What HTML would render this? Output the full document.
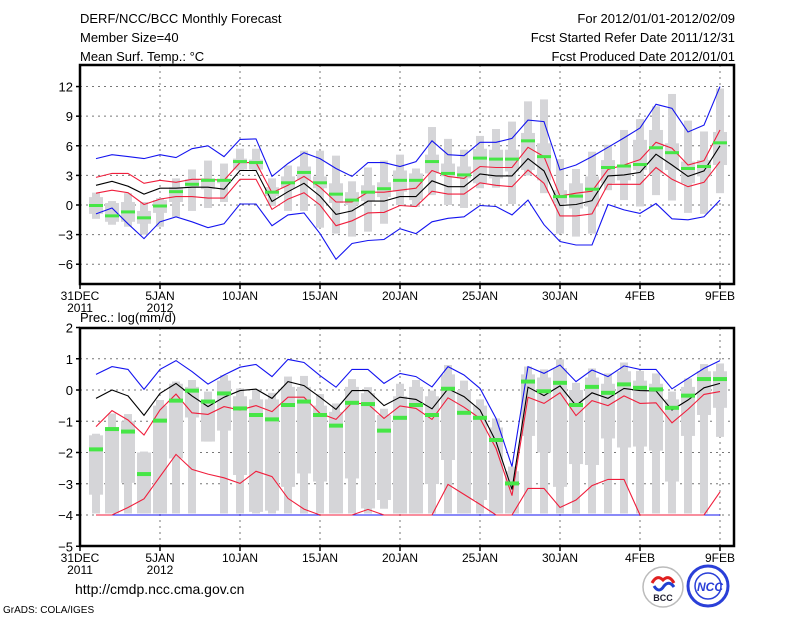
<!DOCTYPE html>
<html><head><meta charset="utf-8"><style>
body{margin:0;background:#fff;}
svg{display:block;font-family:"Liberation Sans","DejaVu Sans",sans-serif;}
</style></head><body>
<svg id="chart" width="800" height="618" viewBox="0 0 800 618">
<rect width="800" height="618" fill="#fff"/>
<g font-size="13" fill="#000">
<text x="80" y="23">DERF/NCC/BCC Monthly Forecast</text>
<text x="80" y="42">Member Size=40</text>
<text x="80" y="61">Mean Surf. Temp.: °C</text>
<text x="735" y="23" text-anchor="end">For 2012/01/01-2012/02/09</text>
<text x="735" y="42" text-anchor="end">Fcst Started Refer Date 2011/12/31</text>
<text x="735" y="61" text-anchor="end">Fcst Produced Date 2012/01/01</text>
<text x="80" y="322">Prec.: log(mm/d)</text>
</g>
<g id="top"></g>
<g id="bot"></g>
<text x="75" y="594" font-size="14">http://cmdp.ncc.cma.gov.cn</text>
<text x="3" y="613" font-size="10">GrADS: COLA/IGES</text>
<g>
<circle cx="663" cy="587" r="20" fill="#fff" stroke="#bbb" stroke-width="1.5"/>
<path d="M652 583 q5 -9 11 -3 q6 -6 11 3" fill="none" stroke="#e02020" stroke-width="3"/>
<path d="M654 586 q5 8 10 0 q5 -6 10 1" fill="none" stroke="#2040d0" stroke-width="3"/>
<text x="663" y="601" font-size="9" font-weight="bold" text-anchor="middle" fill="#223">BCC</text>
</g>
<g>
<circle cx="708" cy="586" r="20" fill="#fff" stroke="#2a3fd8" stroke-width="3"/>
<circle cx="708" cy="586" r="13" fill="none" stroke="#2a3fd8" stroke-width="1.5"/>
<text x="710" y="591" font-size="12" font-weight="bold" font-style="italic" text-anchor="middle" fill="#2a3fd8">NCC</text>
</g>
</svg>
<script>
// Temperature data (days 1..40)
const days = Array.from({length:40},(_,i)=>i+1);
const tBlueHi=[4.7,5.1,4.9,4.7,5.1,4.8,5.7,6.0,4.9,6.65,6.7,2.9,4.2,5.3,4.7,3.7,2.9,4.3,4.3,3.9,4.4,6.5,5.1,5.0,6.35,6.35,6.75,8.6,8.45,3.55,4.05,4.9,5.85,6.8,7.8,10.2,9.8,7.4,8.1,12.0];
const tBlueLo=[-0.9,-0.3,-1.9,-3.4,-1.7,-1.2,-1.7,-2.3,-1.9,0.1,0.1,-2.1,-1.0,-0.8,-2.9,-5.5,-3.9,-3.6,-3.5,-2.4,-2.9,-1.7,-1.35,-1.2,-0.05,-0.15,-1.0,0.5,-2.0,-3.7,-4.05,-4.05,0.05,-0.5,-0.85,0.15,-1.4,-1.5,-1.2,0.5];
const tRedHi=[2.8,3.2,3.2,2.2,2.5,2.3,2.6,2.6,2.5,4.3,4.3,1.25,2.0,2.9,1.8,0.3,0.3,1.3,1.3,1.5,1.7,3.5,2.9,2.7,3.9,3.8,3.8,5.85,4.9,0.9,1.2,1.4,3.6,4.05,4.6,6.35,5.75,4.05,4.5,7.6];
const tMean=[2.0,2.4,1.9,1.1,1.7,1.7,1.8,1.8,1.6,3.5,3.5,0.35,1.35,2.2,0.9,-0.95,-0.6,0.4,0.4,0.85,0.85,2.45,1.85,1.85,3.15,2.95,2.95,4.7,3.45,-0.05,0.05,0.45,2.95,3.05,3.3,5.15,4.05,2.9,3.45,6.0];
const tRedLo=[1.2,1.5,1.25,0.05,0.6,0.85,0.85,0.7,0.7,2.6,2.6,-0.45,0.6,1.25,0,-2.1,-1.6,-0.8,-0.75,-0.05,-0.15,1.4,1.1,1.1,2.25,2.0,1.85,3.55,2.2,-1.1,-1.1,-0.9,2.1,2.1,2.1,3.8,2.6,1.85,2.3,4.4];
const tObs=[-0.05,-1.1,-0.7,-1.3,-0.1,1.35,2.1,2.5,2.5,4.4,4.3,1.3,2.25,3.3,2.25,1.1,0.5,1.3,1.65,2.5,2.5,4.4,3.2,3.05,4.75,4.65,4.65,6.5,4.9,0.85,0.9,1.6,3.8,3.95,4.1,5.8,5.3,3.7,3.9,6.3];
const tMax=[1.25,0.4,1.2,0.3,0.7,2.7,3.6,4.5,4.2,5.7,5.7,2.7,4.0,5.5,5.5,5.0,2.4,3.8,4.5,5.1,3.7,7.9,6.7,5.6,7.0,7.7,8.45,10.5,10.7,4.65,3.65,5.4,6.1,7.6,8.7,10.0,11.25,8.55,7.45,11.8];
const tQ3=[0.8,0.2,0.3,-0.6,0.5,1.8,2.6,2.7,2.6,4.7,4.6,1.8,2.9,3.9,2.9,2.2,1.3,2.0,2.3,3.5,3.2,5.1,4.2,3.9,5.7,5.6,5.6,7.3,6.25,1.5,2.2,2.9,4.55,3.9,6.6,7.6,6.25,4.4,4.55,7.4];
const tQ1=[-0.9,-1.7,-1.7,-1.9,-0.8,0.3,1.8,1.6,2.2,3.6,3.6,0.9,1.7,2.5,1.7,0.2,0,0.4,0.8,1.35,0.5,3.2,2.9,2.7,2.2,2.7,3.4,3.55,2.5,0.15,-0.35,-0.15,2.2,2.5,3.55,3.2,3.55,2.2,2.9,4.05];
const tMin=[-1.4,-2.0,-2.2,-3.0,-2.2,-1.2,-0.6,-0.3,0.3,3.5,3.5,-0.1,-0.6,-0.6,-2.3,-2.9,-3.2,-2.7,-1.9,0,-0.2,1.0,0,-0.3,1.7,1.75,0.1,3.0,1.2,-2.9,-3.2,-2.9,1.5,0.5,-0.15,1.0,0.45,-0.8,-0.9,1.2];
const tTicks=[-6,-3,0,3,6,9,12];
// Precipitation data
const pBlueHi=[0.5,0.75,0.66,0.02,0.66,0.94,0.59,0.19,0.48,0.73,0.82,0.43,0.98,0.88,0.46,0.09,0.66,0.66,0.21,0.53,0.43,0.1,0.75,0.48,0.05,-0.91,-2.45,0.75,0.53,0.8,0.27,0.64,0.43,0.77,0.66,0.66,0.04,0.37,0.69,0.94];
const pBlueLo=[-4,-4,-4,-4,-4,-4,-4,-4,-4,-4,-4,-4,-4,-4,-4,-4,-4,-4,-4,-4,-4,-4,-4,-4,-4,-4,-4,-4,-4,-4,-4,-4,-4,-4,-4,-4,-4,-4,-4,-4];
const pRedHi=[-1.17,-0.66,-0.96,-1.44,-0.64,-0.13,-0.73,-0.78,-0.53,-0.64,-0.5,-0.69,-0.23,-0.23,-0.75,-0.94,-0.41,-0.45,-0.91,-0.51,-0.59,-0.94,-0.25,-0.55,-0.91,-1.87,-3.38,-0.23,-0.43,-0.09,-0.82,-0.34,-0.5,-0.19,-0.43,-0.41,-1.05,-0.62,-0.14,-0.05];
const pMean=[-0.27,0,-0.19,-0.81,-0.11,0.21,-0.19,-0.53,-0.23,-0.02,0.03,-0.27,0.27,0.14,-0.23,-0.62,-0.02,-0.02,-0.5,-0.23,-0.3,-0.6,0.04,-0.21,-0.64,-1.65,-3.18,0.09,-0.18,0.13,-0.5,-0.09,-0.27,0.05,-0.02,-0.03,-0.64,-0.32,0.07,0.21];
const pRedLo=[-4,-4,-3.76,-3.48,-2.77,-2.06,-2.54,-2.69,-2.81,-2.99,-2.6,-2.77,-3.47,-3.81,-4,-4,-4,-3.82,-4,-4,-4,-4,-3.02,-3.34,-3.66,-4,-4,-3.15,-3.15,-3.76,-3.52,-3.06,-2.86,-2.86,-4,-4,-4,-4,-4,-3.26];
const pObs=[-1.9,-1.25,-1.33,-2.69,-0.98,-0.34,-0.02,-0.37,-0.11,-0.59,-0.8,-0.94,-0.48,-0.37,-0.8,-1.14,-0.41,-0.45,-1.3,-0.89,-0.48,-0.8,0.04,-0.73,-0.89,-1.6,-2.99,0.27,-0.04,0.23,-0.48,0.1,-0.09,0.18,0.07,0.02,-0.57,-0.18,0.35,0.35];
const pMax=[-1.4,-0.75,-0.77,-1.97,-0.32,0.27,0.32,-0.05,0.48,0.05,0.02,-0.09,0.43,0.45,-0.13,-0.43,0.35,0.09,-0.6,0.2,0.32,-0.02,0.8,0.3,-0.3,-0.91,-2.45,0.75,0.66,0.98,0.23,0.69,0.53,0.88,0.61,0.53,-0.05,0.37,0.83,0.85];
const pQ3=[-1.45,-1.2,-1.0,-2.0,-0.5,0.2,0.1,-0.3,0.3,-0.2,-0.3,-0.3,0.1,0.1,-0.5,-0.7,0.1,-0.1,-0.8,-0.2,0.1,-0.2,0.5,0.0,-0.5,-1.2,-2.6,0.5,0.4,0.7,0.0,0.4,0.2,0.6,0.3,0.2,-0.3,0.1,0.6,0.6];
const pQ1=[-3.35,-3.95,-2.97,-3.95,-3.95,-2.19,-0.88,-1.65,-1.3,-2.72,-3.9,-3.86,-3.1,-2.67,-2.93,-3.95,-2.83,-3.79,-3.52,-3.95,-3.95,-3.01,-2.24,-3.95,-3.52,-3.95,-3.95,-1.47,-2.0,-3.1,-2.37,-2.4,-1.55,-1.84,-1.81,-1.94,-2.93,-1.47,-0.8,-0.57];
const pMin=[-3.95,-3.95,-3.95,-3.95,-3.95,-3.95,-3.95,-1.65,-3.95,-3.95,-3.95,-3.95,-3.95,-3.95,-3.95,-3.95,-3.95,-3.95,-3.8,-3.95,-3.95,-3.95,-3.95,-3.95,-3.95,-3.95,-3.95,-3.95,-3.95,-3.95,-3.95,-3.95,-3.95,-3.95,-3.95,-3.95,-3.95,-3.95,-3.95,-1.5];
const pTicks=[-5,-4,-3,-2,-1,0,1,2];
const xTickDays=[0,5,10,15,20,25,30,35,40];
const xTickLabels=['31DEC','5JAN','10JAN','15JAN','20JAN','25JAN','30JAN','4FEB','9FEB'];
const xTickYears=['2011','2012','','','','','','',''];

const NS='http://www.w3.org/2000/svg';
function mk(parent,tag,attrs){const e=document.createElementNS(NS,tag);for(const k in attrs)e.setAttribute(k,attrs[k]);parent.appendChild(e);return e;}
const xS=d=>80+16*d;

function panel(g,cfg){
  const y=cfg.y;
  // grid
  cfg.ticks.forEach(t=>{
    const yy=y(t);
    if(yy>cfg.top+2&&yy<cfg.bottom-2){const l=mk(g,'line',{x1:80,x2:734,y1:yy,y2:yy,stroke:'#777','stroke-dasharray':'2,4','stroke-width':1});
    
    }
    const tk=mk(g,'line',{x1:76,x2:80,y1:yy,y2:yy,stroke:'#000','stroke-width':1.5});
    
    
    const tx=mk(g,'text',{x:73,y:yy+5,'text-anchor':'end','font-size':13});
    tx.textContent=(t<0?'\u2212'+(-t):''+t);
    
    
  });
  xTickDays.forEach((d,i)=>{
    const xx=xS(d);
    if(d>0&&d<41){const l=mk(g,'line',{x1:xx,x2:xx,y1:cfg.top,y2:cfg.bottom,stroke:'#777','stroke-dasharray':'2,4','stroke-width':1});
    
    }
    const tk=mk(g,'line',{x1:xx,x2:xx,y1:cfg.bottom,y2:cfg.bottom+5,stroke:'#000','stroke-width':1.5});
    
    
    const tx=mk(g,'text',{x:xx,y:cfg.bottom+16,'text-anchor':'middle','font-size':12});
    tx.textContent=xTickLabels[i];
    
    
    if(xTickYears[i]){const ty=mk(g,'text',{x:xx,y:cfg.bottom+28,'text-anchor':'middle','font-size':12});
    ty.textContent=xTickYears[i];
    
    }
  });
  // gray boxes
  days.forEach((d,i)=>{
    const xx=xS(d);
    const w=mk(g,'rect',{x:xx-4,width:8,y:y(cfg.max[i]),height:Math.max(1,y(cfg.min[i])-y(cfg.max[i])),fill:'#d5d5d8'});
    
    
    const b=mk(g,'rect',{x:xx-7,width:14,y:y(cfg.q3[i]),height:Math.max(1,y(cfg.q1[i])-y(cfg.q3[i])),fill:'#d5d5d8'});
    
    
  });
  // lines
  const series=[[cfg.blueLo,'#1414f0','min-line'],[cfg.blueHi,'#1414f0','max-line'],[cfg.redLo,'#f01e3c','lower-spread-line'],[cfg.redHi,'#f01e3c','upper-spread-line'],[cfg.mean,'#000','ensemble-mean-line']];
  series.forEach(([arr,col,nm])=>{
    const p=mk(g,'polyline',{points:arr.map((v,i)=>xS(days[i])+','+y(v).toFixed(1)).join(' '),fill:'none',stroke:col,'stroke-width':1.1});
    
    
  });
  // obs
  days.forEach((d,i)=>{
    const r=mk(g,'rect',{x:xS(d)-7,width:14,y:y(cfg.obs[i])-cfg.gh/2,height:cfg.gh,fill:'#46e646'});
    
    
  });
  const fr=mk(g,'rect',{x:80,y:cfg.top,width:654,height:cfg.bottom-cfg.top,fill:'none',stroke:'#000','stroke-width':2.5});
  
  
}
panel(document.getElementById('top'),{y:v=>205-9.87*v,top:65,bottom:284,ticks:tTicks,max:tMax,q3:tQ3,q1:tQ1,min:tMin,blueHi:tBlueHi,blueLo:tBlueLo,redHi:tRedHi,redLo:tRedLo,mean:tMean,obs:tObs,gh:3});
panel(document.getElementById('bot'),{y:v=>390-31.25*v,top:328,bottom:546,ticks:pTicks,max:pMax,q3:pQ3,q1:pQ1,min:pMin,blueHi:pBlueHi,blueLo:pBlueLo,redHi:pRedHi,redLo:pRedLo,mean:pMean,obs:pObs,gh:4});
</script>
</body></html>
